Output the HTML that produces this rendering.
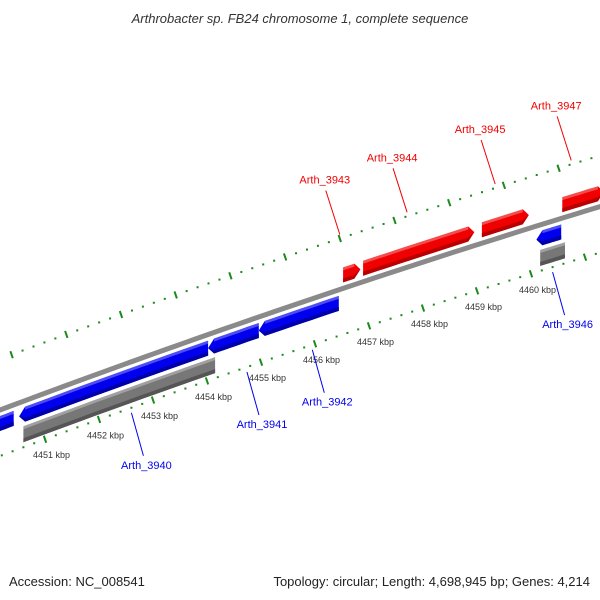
<!DOCTYPE html>
<html><head><meta charset="utf-8"><style>
html,body{margin:0;padding:0;background:#fff;}
svg{display:block;font-family:"Liberation Sans",sans-serif;}
</style></head><body>
<svg id="map" width="600" height="600" viewBox="0 0 600 600">
<text x="300" y="23" text-anchor="middle" font-size="13" font-style="italic" fill="#333">Arthrobacter sp. FB24 chromosome 1, complete sequence</text>
<text x="9" y="586" font-size="13" fill="#222">Accession: NC_008541</text>
<text x="590" y="586" text-anchor="end" font-size="13" fill="#222">Topology: circular; Length: 4,698,945 bp; Genes: 4,214</text>
<g id="tracks"></g>
</svg>
<script>
// data (kbp)
const tickKbp = [4451,4452,4453,4454,4455,4456,4457,4458,4459,4460];
const tickLabels = ["4451 kbp","4452 kbp","4453 kbp","4454 kbp","4455 kbp","4456 kbp","4457 kbp","4458 kbp","4459 kbp","4460 kbp"];
const plusGenes = [[4456.52,4456.84],[4456.89,4458.95],[4459.09,4459.96],[4460.58,4461.35]];
const minusGenes = [[4450,4450.42],[4450.52,4454.02],[4454.02,4454.96],[4454.96,4456.44],[4460.1,4460.56]];
const codingRanges = [[4450.6,4454.15],[4460.17,4460.63]];
const plusLabels = ["Arth_3943","Arth_3944","Arth_3945","Arth_3947"];
const plusLabelKbp = [4456.0,4457.23,4458.84,4460.23];
const minusLabels = ["Arth_3940","Arth_3941","Arth_3942","Arth_3946"];
const minusLabelKbp = [4452.6,4454.74,4455.95,4460.4];

const NS='http://www.w3.org/2000/svg';
const g=document.getElementById('tracks');
function X(k){return 45+54*(k-4451);}
function Yb(x){return 410-0.375*x+0.00006*x*x;}
function P(k,off){const x=X(k);return [x,Yb(x)+off];}
function mk(tag,attrs){const e=document.createElementNS(NS,tag);for(const a in attrs)e.setAttribute(a,attrs[a]);g.appendChild(e);return e;}

// backbone
let bb='';for(let x=-5;x<=605;x+=10){bb+=(x===-5?'M':'L')+x+','+Yb(x).toFixed(2);}
let e=mk('path',{d:bb,stroke:'#8a8a8a','stroke-width':5,fill:'none'});



// tick rows
function tickRow(off,shiftFn,name){
  for(let k=4450;k<=4462.01;k+=0.2){
    const kk=Math.round(k*5)/5;
    const x=X(kk)+shiftFn(kk);const y=Yb(x)+off;
    if(x<-5||x>605)continue;
    const major=Math.abs(kk-Math.round(kk))<0.01;
    let t;
    if(major){t=mk('line',{x1:x-1.2,y1:y-3.5,x2:x+1.2,y2:y+3.5,stroke:'#1a8a1a','stroke-width':2});}
    else{t=mk('rect',{x:x-1,y:y-1,width:2,height:2,fill:'#1a8a1a'});}
    
    
  }
}
tickRow(46,k=>0,'lower');
tickRow(-51,k=>22+0.7*(k-4452),'upper');

// tick labels
tickKbp.forEach((k,i)=>{
  const x=X(k);const y=Yb(x)+46;
  const t=mk('text',{x:x-12,y:y+19,'font-size':9,fill:'#333'});
  t.textContent=tickLabels[i];
  
  
});

// gene shapes
function gene(k0,k1,o0,o1,dir,fill,dark,name){
  const pts=[];const n=8;const mid=(o0+o1)/2;
  const aw=6/54;
  let s=k0,en=k1;
  if(dir>0)en=k1-aw; if(dir<0)s=k0+aw;
  for(let i=0;i<=n;i++){const k=s+(en-s)*i/n;pts.push(P(k,o0));}
  if(dir>0)pts.push(P(k1,mid));
  for(let i=n;i>=0;i--){const k=s+(en-s)*i/n;pts.push(P(k,o1));}
  if(dir<0)pts.push(P(k0,mid));
  const poly=mk('polygon',{points:pts.map(p=>p[0].toFixed(1)+','+p[1].toFixed(1)).join(' '),fill:fill});
  
  
  const b=[];
  for(let i=0;i<=n;i++){const k=s+(en-s)*i/n;b.push(P(k,o1-4));}
  if(dir>0)b.push(P(k1,mid));
  for(let i=n;i>=0;i--){const k=s+(en-s)*i/n;b.push(P(k,o1));}
  if(dir<0)b.push(P(k0,mid));
  const sh=mk('polygon',{points:b.map(p=>p[0].toFixed(1)+','+p[1].toFixed(1)).join(' '),fill:dark});
  
  
  const hl=[];
  for(let i=0;i<=n;i++){const k=s+(en-s)*i/n;hl.push(P(k,o0));}
  for(let i=n;i>=0;i--){const k=s+(en-s)*i/n;hl.push(P(k,o0+3));}
  const hp=mk('polygon',{points:hl.map(p=>p[0].toFixed(1)+','+p[1].toFixed(1)).join(' '),fill:'rgba(255,255,255,0.3)'});
  
  
}
plusGenes.forEach(r=>gene(r[0],r[1],-21,-6,1,'#f00000','#b80000','plus-strand-gene'));
minusGenes.forEach((r,i)=>gene(r[0],r[1],6,21,i===0?0:-1,'#0000ee','#0000a8','minus-strand-gene'));
codingRanges.forEach(r=>gene(r[0],r[1],25,41,0,'#777','#555','orf-feature'));

// labels
function label(k,text,color,up,name){
  const x=X(k);
  let x1,y1,x2,y2,tx,ty;
  if(up){x1=x+22+0.7*(k-4452);y1=Yb(x1)-55;x2=x1-14;y2=y1-44;tx=x2-1;ty=y2-7;}
  else{x1=x;y1=Yb(x)+51;x2=x1+12;y2=y1+43;tx=x2+3;ty=y2+13;}
  const l=mk('line',{x1:x1,y1:y1,x2:x2,y2:y2,stroke:color,'stroke-width':1});
  
  
  const t=mk('text',{x:tx,y:ty,'font-size':11,fill:color,'text-anchor':'middle'});
  t.textContent=text;
  
  
}
plusLabels.forEach((s,i)=>label(plusLabelKbp[i],s,'#f00000',true,'plus-gene-label'));
minusLabels.forEach((s,i)=>label(minusLabelKbp[i],s,'#0000ee',false,'minus-gene-label'));
</script>
</body></html>
